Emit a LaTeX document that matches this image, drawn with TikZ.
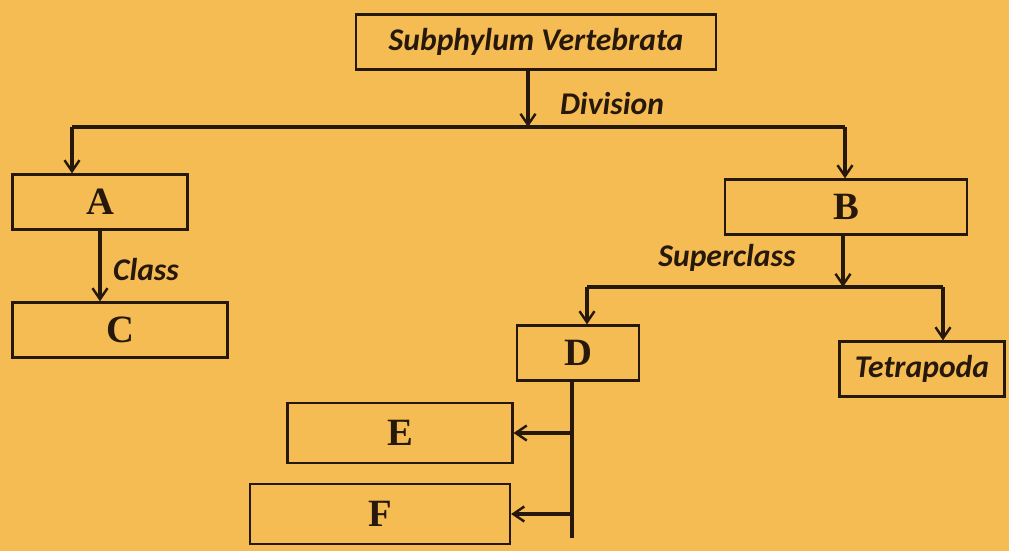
\documentclass[tikz,border=0pt]{standalone}
\usepackage{fontspec}
\setmainfont{Liberation Serif}
\newfontfamily\carlito{Carlito}
\usetikzlibrary{arrows.meta}
\definecolor{paper}{RGB}{246,188,84}
\definecolor{ink}{RGB}{38,24,10}
\begin{document}
\begin{tikzpicture}[x=0.02cm,y=-0.02cm]
    \tikzset{
    box/.style={draw=ink,line width=1.3pt,minimum height=1.1cm,inner sep=0pt,text=ink},
    let/.style={box,font=\bfseries\fontsize{22}{24}\selectfont},
    nam/.style={box,font=\carlito\bfseries\itshape\fontsize{18}{20}\selectfont},
    lbl/.style={text=ink,font=\carlito\bfseries\itshape\fontsize{18}{20}\selectfont},
    c1/.style={draw=ink,line width=2.2pt},
    c2/.style={c1,-{Straight Barb[length=2.2mm,width=3mm,line width=1.4pt]}},
    }
    \fill[paper] (0,0) rectangle (1009,551);
    \useasboundingbox (0,0) rectangle (1009,551);

    \node[nam,minimum width=7.2cm] (sv) at (536,42) {Subphylum Vertebrata};
    \node[let,minimum width=3.5cm] (A) at (100,202) {A};
    \node[let,minimum width=4.85cm] (B) at (846,207) {B};
    \node[let,minimum width=4.3cm] (C) at (120,330) {C};
    \node[let,minimum width=2.45cm] (D) at (578,353) {D};
    \node[nam,minimum width=3.3cm] (T) at (922,369) {Tetrapoda};
    \node[let,minimum width=4.5cm,minimum height=1.2cm] (E) at (400,433) {E};
    \node[let,minimum width=5.2cm,minimum height=1.2cm] (F) at (380,514) {F};

    % division
    \coordinate (d1) at (528,127);
    \coordinate (d1l) at (72,127);
    \coordinate (d1r) at (845,127);
    \draw[c1] (d1l) -- (d1r);
    \draw[c2] (sv.south -| d1) -- (d1);
    \draw[c2] (d1l) -- (d1l |- A.north);
    \draw[c2] (d1r) -- (d1r |- B.north);
    \node[lbl] (div) at (612,104) {Division};

    % class
    \draw[c2] (A.south) -- (A.south |- C.north);
    \node[lbl] (cls) at (146,270) {Class};

    % superclass
    \coordinate (s1) at (843,287);
    \coordinate (s1l) at (587,287);
    \coordinate (s1r) at (943,287);
    \draw[c1] (s1l) -- (s1r);
    \draw[c2] (s1 |- B.south) -- (s1);
    \draw[c2] (s1l) -- (s1l |- D.north);
    \draw[c2] (s1r) -- (s1r |- T.north);
    \node[lbl] (sup) at (727,258) {Superclass};

    % D branches
    \coordinate (e1) at (572,538);
    \draw[c1] (e1 |- D.south) -- (e1);
    \draw[c2] (e1 |- E.east) -- (E.east);
    \draw[c2] (e1 |- F.east) -- (F.east);
\end{tikzpicture}
\end{document}
